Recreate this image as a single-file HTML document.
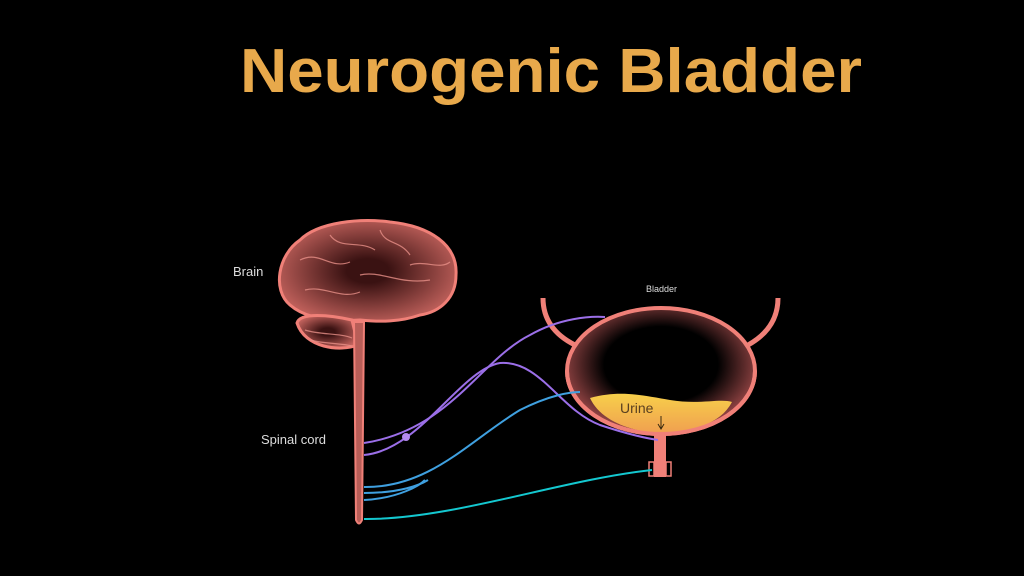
<!DOCTYPE html>
<html><head><meta charset="utf-8"><style>
html,body{margin:0;padding:0;background:#000;width:1024px;height:576px;overflow:hidden}
</style></head><body>
<svg width="1024" height="576" viewBox="0 0 1024 576" xmlns="http://www.w3.org/2000/svg">
<defs>
<radialGradient id="bl" cx="0.5" cy="0.45" r="0.55">
<stop offset="0.55" stop-color="#000"/><stop offset="1" stop-color="#a04a4a"/>
</radialGradient>
<radialGradient id="br" cx="0.5" cy="0.5" r="0.6">
<stop offset="0.2" stop-color="#3a1212"/><stop offset="1" stop-color="#d06a64"/>
</radialGradient>
<linearGradient id="ur" x1="0" y1="0" x2="0" y2="1">
<stop offset="0" stop-color="#f7cf4a"/><stop offset="1" stop-color="#f0a050"/>
</linearGradient>
</defs>
<rect width="1024" height="576" fill="#000"/>
<text x="240" y="92" font-family="Liberation Sans, sans-serif" font-weight="bold" font-size="62" fill="#E8A94B" textLength="622" lengthAdjust="spacingAndGlyphs">Neurogenic Bladder</text>

<!-- brain -->
<path d="M290,305 C272,290 278,255 300,240 C318,222 360,218 390,222 C430,226 458,245 456,275 C456,298 440,312 420,315 C400,322 380,322 360,320 C330,322 305,318 290,305 Z" fill="url(#br)" stroke="#f08078" stroke-width="3"/>
<path d="M297,323 C300,312 330,315 352,320 L358,345 C340,352 305,348 297,323 Z" fill="url(#br)" stroke="#f08078" stroke-width="3"/>
<g stroke="#e89088" stroke-width="1.2" fill="none" opacity="0.8">
<path d="M300,260 C320,250 330,270 350,262"/><path d="M330,235 C340,250 360,240 375,250"/>
<path d="M380,230 C385,245 400,240 410,255"/><path d="M360,275 C380,270 400,285 430,280"/>
<path d="M305,290 C325,285 340,300 360,292"/><path d="M410,265 C425,260 440,270 450,262"/>
<path d="M305,330 C320,335 340,333 352,338"/><path d="M310,340 C325,344 340,343 352,346"/>
</g>
<!-- spinal cord -->
<path d="M354,322 L364,322 L362,520 Q359,527 356,520 Z" fill="#b85e58" stroke="#f08078" stroke-width="2"/>
<text x="233" y="276" font-family="Liberation Sans, sans-serif" font-size="13" fill="#ddd">Brain</text>
<text x="261" y="444" font-family="Liberation Sans, sans-serif" font-size="13" fill="#ddd">Spinal cord</text>
<text x="646" y="292" font-family="Liberation Sans, sans-serif" font-size="9" fill="#ddd">Bladder</text>

<!-- ureters -->
<path d="M543,298 C543,320 555,335 575,345" stroke="#f08078" stroke-width="5" fill="none"/>
<path d="M778,298 C778,320 766,335 748,345" stroke="#f08078" stroke-width="5" fill="none"/>
<!-- bladder -->
<ellipse cx="661" cy="371" rx="94" ry="63" fill="url(#bl)" stroke="#f08078" stroke-width="4"/>
<path d="M590,398 C620,390 640,395 670,400 C700,405 720,398 732,402 C720,425 690,432 661,433 C630,432 600,420 590,398 Z" fill="url(#ur)"/>
<path d="M567,371 A94,63 0 0 0 755,371" stroke="#f08078" stroke-width="4" fill="none"/>
<rect x="654" y="432" width="12" height="45" fill="#f08078"/>
<rect x="649" y="462" width="5" height="14" fill="none" stroke="#f08078" stroke-width="1.5"/>
<rect x="666" y="462" width="5" height="14" fill="none" stroke="#f08078" stroke-width="1.5"/>
<text x="620" y="413" font-family="Liberation Sans, sans-serif" font-size="14" fill="#5a4020">Urine</text>
<path d="M661,416 L661,428 M658,424 L661,429 L664,424" stroke="#3a2a10" stroke-width="1" fill="none"/>

<!-- nerves -->
<g fill="none" stroke-width="2">
<path d="M364,443 C450,430 480,360 530,335 C560,318 590,316 605,317" stroke="#9b6fe8"/>
<path d="M364,455 C420,450 460,370 500,363 C540,360 560,410 600,425 C630,435 645,438 658,440" stroke="#9b6fe8"/>
<path d="M364,487 C430,488 470,440 520,410 C550,395 570,392 580,392" stroke="#3fa0e0"/>
<path d="M364,493 C400,493 420,485 428,480" stroke="#3fa0e0"/>
<path d="M364,500 C400,498 420,485 425,480" stroke="#3fa0e0"/>
<path d="M364,519 C450,520 560,480 652,470" stroke="#14c8d0"/>
</g>
<circle cx="406" cy="437" r="4" fill="#b58af0"/>
</svg>
</body></html>
